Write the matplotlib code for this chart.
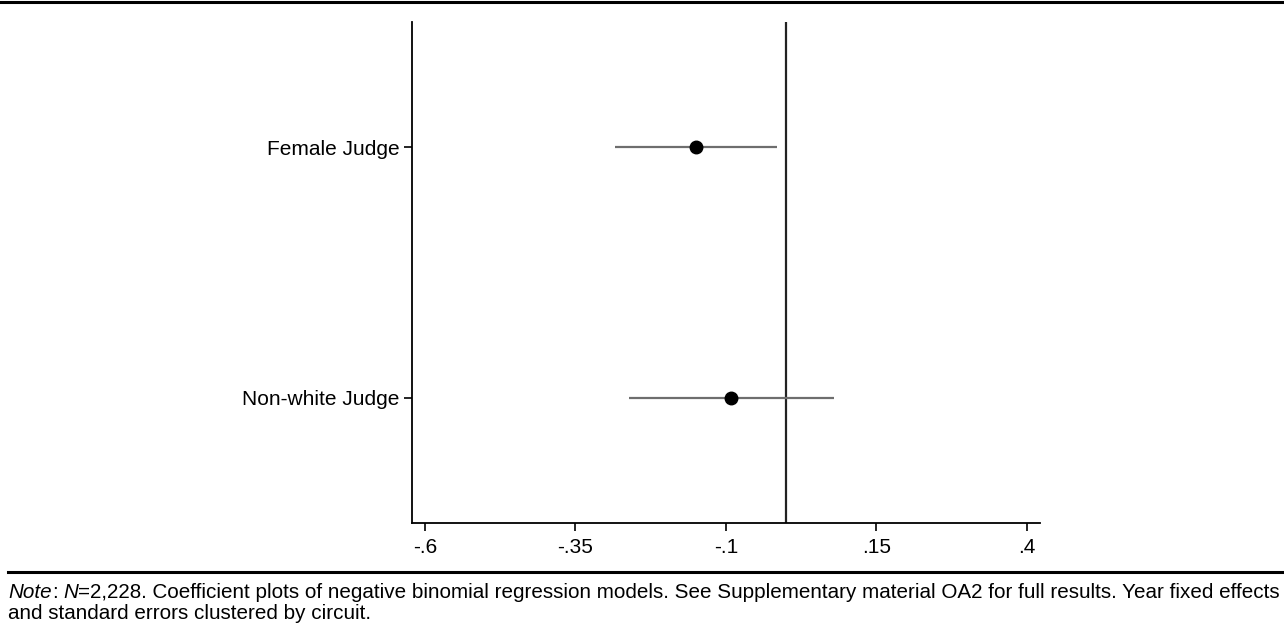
import matplotlib
matplotlib.use("Agg")
import matplotlib.pyplot as plt
from matplotlib import font_manager

# ---- data ----
categories = ["Non-white Judge", "Female Judge"]
estimates = [-0.092, -0.150]
ci_low = [-0.261, -0.284]
ci_high = [0.079, -0.015]
xticks = [-0.6, -0.35, -0.1, 0.15, 0.4]
xtick_labels = ["-.6", "-.35", "-.1", ".15", ".4"]
note_line1 = [("Note", "italic"), (":", "normal"), (" ", "space"), ("N", "italic"),
              ("=2,228. Coefficient plots of negative binomial regression models. "
               "See Supplementary material OA2 for full results. Year fixed effects", "normal")]
note_line2 = [("and standard errors clustered by circuit.", "normal")]

W, H = 1284, 642
fam = "Liberation Sans"
fig = plt.figure(figsize=(W / 100, H / 100), dpi=100)
ax = fig.add_axes([412 / W, 1 - 523 / H, (1040 - 412) / W, (523 - 22) / H])

ypos = list(range(1, len(categories) + 1))
ax.axvline(0, color="#222222", lw=1.6, zorder=1)
ax.hlines(ypos, ci_low, ci_high, color="#6e6e6e", lw=1.6, zorder=2)
ax.plot(estimates, ypos, "o", color="black", ms=9, zorder=3)

ax.set_xlim(-0.6217, 0.422)
ax.set_ylim(0.5, 2.5)
ax.set_xticks(xticks)
ax.set_xticklabels(xtick_labels, fontsize=15, family=fam)
ax.set_yticks(ypos)
ax.set_yticklabels(categories, fontsize=15, family=fam)
ax.tick_params(axis="both", direction="out", length=6, width=1.2, color="black")
ax.tick_params(axis="x", pad=5)
ax.tick_params(axis="y", pad=3)
for s in ["top", "right"]:
    ax.spines[s].set_visible(False)
for s in ["left", "bottom"]:
    ax.spines[s].set_linewidth(1.3)

# rules
fig.add_artist(plt.Line2D([0, 1], [1 - 1.5 / H, 1 - 1.5 / H], transform=fig.transFigure,
                          color="black", lw=2.2))
fig.add_artist(plt.Line2D([8 / W, 1], [1 - 572 / H, 1 - 572 / H], transform=fig.transFigure,
                          color="black", lw=2.2))

# footnote
renderer = fig.canvas.get_renderer()


def draw_line(pieces, x0, py, fs):
    texts = []
    x = x0
    sp_a = fig.text(0, 0, "a a", fontsize=fs, family=fam)
    sp_b = fig.text(0, 0, "aa", fontsize=fs, family=fam)
    space_w = sp_a.get_window_extent(renderer).width - sp_b.get_window_extent(renderer).width
    sp_a.remove()
    sp_b.remove()
    for s, style in pieces:
        if style == "space":
            x += space_w
            continue
        t = fig.text(x / W, 1 - py / H, s, fontsize=fs, style=style, family=fam,
                     ha="left", va="baseline", color="black")
        x += t.get_window_extent(renderer).width
        texts.append(t)
    return texts, x - x0


x0, x1 = 8, 1278
fs = 11
texts, width = draw_line(note_line1, x0, 598, fs)
for t in texts:
    t.remove()
fs = fs * (x1 - x0) / width
draw_line(note_line1, x0, 598, fs)
draw_line(note_line2, x0, 619, fs)

fig.savefig("out.png", dpi=100)
